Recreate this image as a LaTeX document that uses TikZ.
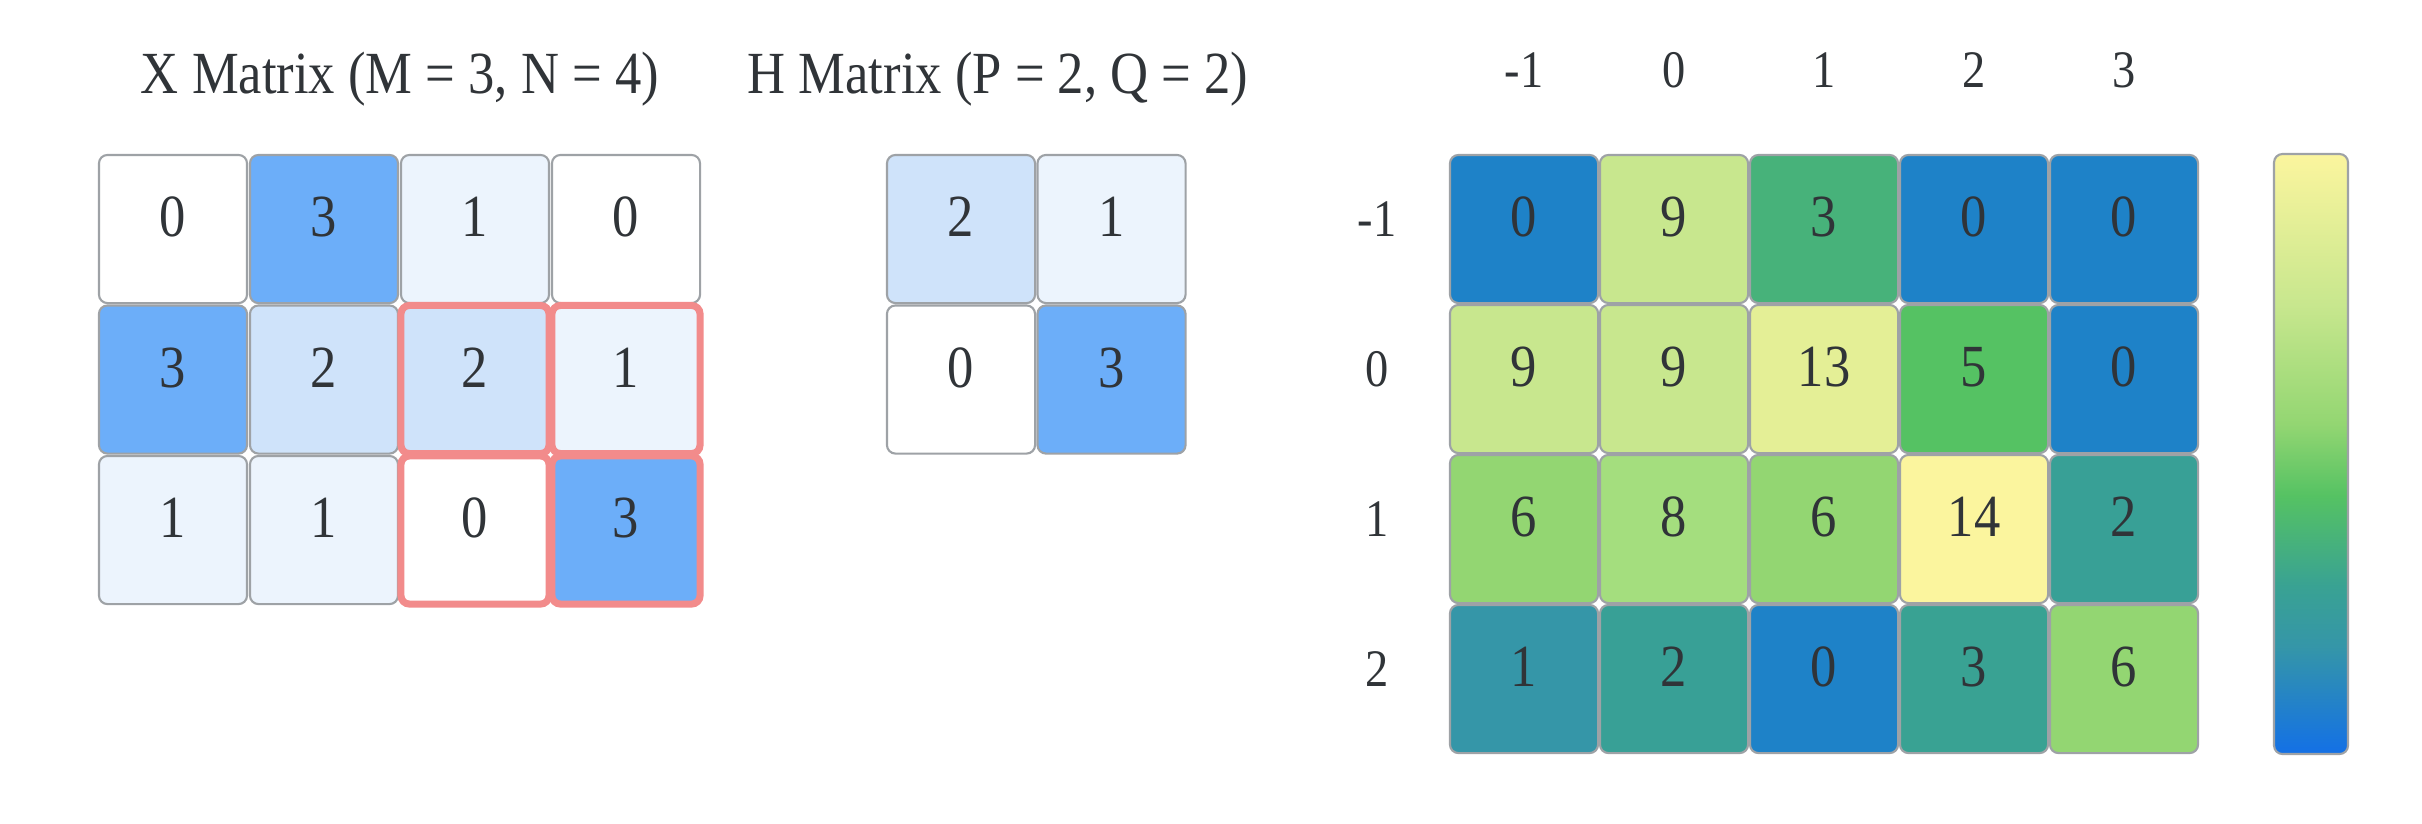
\documentclass[tikz,border=0pt]{standalone}
\usepackage{fontspec}
\setmainfont{Liberation Serif}[FakeStretch=0.88]
\usetikzlibrary{positioning}

\definecolor{txt}{HTML}{303438}
\definecolor{cellline}{HTML}{9EA2A6}
\definecolor{hilite}{HTML}{F28B8B}
\definecolor{xc0}{HTML}{FFFFFF}
\definecolor{xc1}{HTML}{ECF4FD}
\definecolor{xc2}{HTML}{CFE3FA}
\definecolor{xc3}{HTML}{6CAEF9}
\definecolor{yc0}{HTML}{1E82C8}
\definecolor{yc1}{HTML}{3596A8}
\definecolor{yc2}{HTML}{38A096}
\definecolor{yc3}{HTML}{47B27A}
\definecolor{yc3b}{HTML}{39A293}
\definecolor{yc5}{HTML}{55C263}
\definecolor{yc6}{HTML}{93D672}
\definecolor{yc8}{HTML}{A4DE7E}
\definecolor{yc9}{HTML}{C8E78E}
\definecolor{yc13}{HTML}{E4EF96}
\definecolor{yc14}{HTML}{FBF59E}
\definecolor{ycend}{HTML}{1370E6}

\begin{document}
\begin{tikzpicture}[x=0.01cm,y=-0.01cm,
  cell/.style={draw=cellline,line width=0.6pt,rounded corners=2.4pt,
    minimum width=1.48cm,minimum height=1.48cm,inner sep=0pt,
    text=txt,text height=0.15cm,text depth=0pt,font=\fontsize{17}{20}\selectfont},
  marked/.style={draw=hilite,line width=2pt},
  title/.style={text=txt,anchor=base,inner sep=0pt,font=\fontsize{17}{20}\selectfont},
  axislabel/.style={text=txt,anchor=base,inner sep=0pt,font=\fontsize{15}{18}\selectfont}]
  \useasboundingbox (0,0) rectangle (2422,823);

  \node[title] (xtitle) at (400,93) {X Matrix (M = 3, N = 4)};
  \node[title] (htitle) at (998,93) {H Matrix (P = 2, Q = 2)};

  \foreach \row [count=\r from 0] in {{0,3,1,0},{3,2,2,1},{1,1,0,3}}
    \foreach \v [count=\c from 0] in \row
      \node[cell,fill=xc\v] (xm-\r-\c) at ({173+151*\c},{229+150.5*\r}) {\v};

  \foreach \cc in {xm-1-2,xm-1-3,xm-2-2,xm-2-3}
    \node[cell,marked,fill=none] at (\cc) {};

  \foreach \row [count=\r from 0] in {{2,1},{0,3}}
    \foreach \v [count=\c from 0] in \row
      \node[cell,fill=xc\v] (hm-\r-\c) at ({961+150.5*\c},{229+150.5*\r}) {\v};

  \foreach \lab [count=\c from 0] in {-1,0,1,2,3}
    \node[axislabel] (ycol-\c) at ({1524+150*\c},87) {\lab};
  \foreach \lab [count=\r from 0] in {-1,0,1,2}
    \node[axislabel] (yrow-\r) at (1377,{236+150*\r}) {\lab};

  \foreach \row [count=\r from 0] in {{0/yc0,9/yc9,3/yc3,0/yc0,0/yc0},
                                      {9/yc9,9/yc9,13/yc13,5/yc5,0/yc0},
                                      {6/yc6,8/yc8,6/yc6,14/yc14,2/yc2},
                                      {1/yc1,2/yc2,0/yc0,3/yc3b,6/yc6}}
    \foreach \v/\col [count=\c from 0] in \row
      \node[cell,fill=\col] (ym-\r-\c) at ({1524+150*\c},{229+150*\r}) {\v};

  \begin{scope}
    \clip[rounded corners=2.4pt] (2274,154) rectangle (2348,754);
    \shade[top color=yc14,bottom color=yc9] (2274,154) rectangle (2348,304);
    \shade[top color=yc9,bottom color=yc6] (2274,304) rectangle (2348,424);
    \shade[top color=yc6,bottom color=yc5] (2274,424) rectangle (2348,496);
    \shade[top color=yc5,bottom color=yc3b] (2274,496) rectangle (2348,586);
    \shade[top color=yc3b,bottom color=yc1] (2274,586) rectangle (2348,646);
    \shade[top color=yc1,bottom color=ycend] (2274,646) rectangle (2348,754);
  \end{scope}
  \draw[cellline,line width=0.6pt,rounded corners=2.4pt] (2274,154) rectangle (2348,754);
\end{tikzpicture}
\end{document}
